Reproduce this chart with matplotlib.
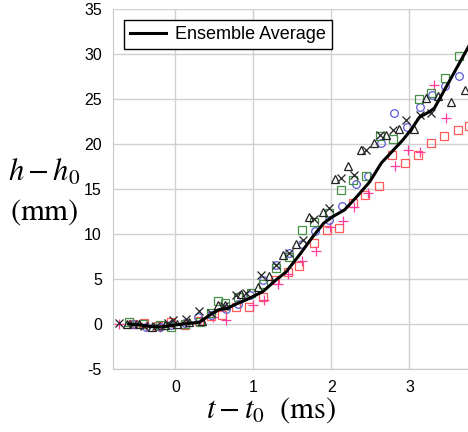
import numpy as np
import matplotlib
matplotlib.use("Agg")
import matplotlib.pyplot as plt

plt.rcParams['mathtext.fontset'] = 'stix'
plt.rcParams['font.family'] = ['Liberation Sans', 'DejaVu Sans']
plt.rcParams['axes.unicode_minus'] = False

# ensemble average line
t_avg = [-0.6, -0.45, -0.3, -0.15, 0.0, 0.1, 0.2, 0.31, 0.44, 0.56, 0.65, 0.8, 0.91, 1.12,
         1.29, 1.42, 1.6, 1.76, 1.9, 2.01, 2.17, 2.33, 2.49, 2.64, 2.78, 2.91, 3.02, 3.13,
         3.26, 3.32, 3.73, 3.8]
h_avg = [0.0, -0.1, -0.3, -0.3, -0.1, 0.0, 0.1, 0.2, 1.0, 1.6, 1.7, 2.3, 2.7, 3.6,
         4.9, 5.8, 7.8, 9.7, 11.2, 11.9, 12.7, 14.2, 15.8, 17.9, 19.2, 20.4, 21.6, 23.0,
         23.6, 24.0, 30.4, 31.5]

# black x
t_x = [-0.72, -0.55, -0.4, -0.25, -0.1, -0.03, 0.14, 0.30, 0.45, 0.62, 0.78, 0.91, 1.10,
       1.29, 1.46, 1.63, 1.78, 1.97, 2.12, 2.29, 2.44, 2.62, 2.79, 2.96, 3.13, 3.28]
h_x = [0.1, 0.0, -0.2, -0.2, 0.1, 0.5, 0.6, 1.4, 1.2, 2.0, 3.2, 3.4, 5.4,
       6.6, 7.9, 9.3, 11.7, 12.9, 16.2, 16.6, 19.3, 21.0, 21.6, 22.7, 23.2, 23.5]

# black triangles
t_tri = [-0.62, -0.47, -0.3, -0.14, 0.02, 0.18, 0.34, 0.54, 0.63, 0.84, 1.06, 1.2,
         1.38, 1.55, 1.71, 1.89, 2.04, 2.21, 2.38, 2.55, 2.70, 2.87, 3.06, 3.21, 3.36,
         3.53, 3.71]
h_tri = [0.0, 0.0, -0.3, -0.1, 0.0, 0.2, 0.3, 2.1, 2.1, 3.3, 4.1, 5.3,
         7.7, 8.9, 11.9, 12.4, 16.1, 17.6, 19.3, 20.1, 21.0, 21.7, 21.7, 25.1, 25.3,
         24.7, 26.0]

# green squares
t_gsq = [-0.59, -0.42, -0.2, -0.06, 0.12, 0.31, 0.46, 0.54, 0.63, 0.80, 0.97, 1.12,
         1.29, 1.46, 1.62, 1.78, 1.97, 2.12, 2.27, 2.44, 2.62, 2.79, 3.12, 3.28, 3.45,
         3.63]
h_gsq = [0.2, 0.0, -0.1, -0.3, 0.0, 0.25, 1.2, 2.6, 2.3, 3.0, 3.5, 4.5,
         6.2, 7.5, 10.5, 11.3, 12.3, 14.9, 16.0, 16.4, 20.9, 20.6, 25.0, 25.7, 27.3,
         29.8]

# blue circles
t_circ = [-0.55, -0.38, -0.2, -0.06, 0.12, 0.29, 0.46, 0.65, 0.80, 0.95, 1.12, 1.29,
          1.46, 1.62, 1.79, 1.97, 2.14, 2.31, 2.47, 2.63, 2.80, 2.97, 3.13, 3.29, 3.46,
          3.63]
h_circ = [0.0, -0.3, -0.3, -0.1, 0.1, 0.8, 1.0, 1.7, 2.2, 3.2, 4.9, 6.6,
          7.9, 8.9, 10.3, 11.6, 13.1, 15.6, 16.4, 20.1, 23.5, 21.9, 24.1, 25.5, 26.4,
          27.6]

# red squares
t_rsq = [-0.55, -0.4, -0.22, -0.06, 0.12, 0.30, 0.45, 0.60, 0.77, 0.94, 1.12, 1.27,
         1.44, 1.59, 1.77, 1.94, 2.10, 2.27, 2.43, 2.61, 2.78, 2.94, 3.11, 3.28, 3.44,
         3.62, 3.76]
h_rsq = [0.0, 0.15, -0.2, 0.25, -0.1, 0.3, 0.9, 1.0, 1.9, 1.9, 3.0, 4.9,
         5.8, 6.4, 9.0, 10.4, 10.7, 13.4, 14.3, 15.3, 18.8, 17.9, 18.8, 20.1, 20.9,
         21.6, 22.0]

# magenta plus
t_plus = [-0.72, -0.55, -0.38, -0.2, -0.03, 0.14, 0.31, 0.48, 0.65, 0.99, 1.14, 1.31,
          1.44, 1.62, 1.80, 1.98, 2.15, 2.29, 2.47, 2.81, 2.98, 3.14, 3.31, 3.47]
h_plus = [0.0, 0.0, -0.2, -0.3, 0.0, 0.1, 0.3, 0.8, 0.5, 2.1, 2.7, 4.5,
          5.6, 7.0, 8.1, 10.8, 11.4, 13.0, 14.6, 17.6, 19.3, 19.1, 26.6, 22.9]

fig = plt.figure(figsize=(4.68, 4.32), dpi=100)
ax = fig.add_axes([0.2415, 0.1458, 0.7585, 0.8333])

ms = 5.5
ax.plot(t_rsq, h_rsq, linestyle="", marker="s", markersize=ms, markerfacecolor="none",
        markeredgecolor="#ff5a5a", markeredgewidth=0.9)
ax.plot(t_plus, h_plus, linestyle="", marker="+", markersize=ms + 1.5,
        color="#ff3d9e", markeredgewidth=0.9)
ax.plot(t_circ, h_circ, linestyle="", marker="o", markersize=ms, markerfacecolor="none",
        markeredgecolor="#5c5cd6", markeredgewidth=0.9)
ax.plot(t_gsq, h_gsq, linestyle="", marker="s", markersize=ms, markerfacecolor="none",
        markeredgecolor="#46904a", markeredgewidth=0.9)
ax.plot(t_tri, h_tri, linestyle="", marker="^", markersize=ms + 0.5, markerfacecolor="none",
        markeredgecolor="#222222", markeredgewidth=0.9)
ax.plot(t_x, h_x, linestyle="", marker="x", markersize=ms + 0.5,
        color="#222222", markeredgewidth=0.9)
ax.plot(t_avg, h_avg, color="black", linewidth=2.2, label="Ensemble Average")

ax.set_xlim(-0.8, 3.75)
ax.set_ylim(-5, 35)
ax.set_xticks([0, 1, 2, 3])
ax.set_yticks(np.arange(-5, 36, 5))
ax.grid(True, color="#d0d0d0", linewidth=1.0)
ax.set_axisbelow(True)
ax.tick_params(length=0, labelsize=11.5, pad=8)
for side in ["top", "right"]:
    ax.spines[side].set_visible(False)
for side in ["left", "bottom"]:
    ax.spines[side].set_color("#c8c8c8")

leg = ax.legend(loc="upper left", fontsize=13, fancybox=False, edgecolor="black",
                framealpha=1, handlelength=2.0, borderpad=0.35, handletextpad=0.5,
                bbox_to_anchor=(0.005, 0.995))
leg.get_frame().set_linewidth(1.0)

fig.text(0.095, 0.60, r'$h-h_0$', fontsize=22, ha="center", va="center")
fig.text(0.095, 0.51, r'$\mathrm{(mm)}$', fontsize=22, ha="center", va="center")
fig.text(0.58, 0.05, r'$t-t_0\ \ \mathrm{(ms)}$', fontsize=22, ha="center", va="center")

fig.savefig("out.png", dpi=100)
